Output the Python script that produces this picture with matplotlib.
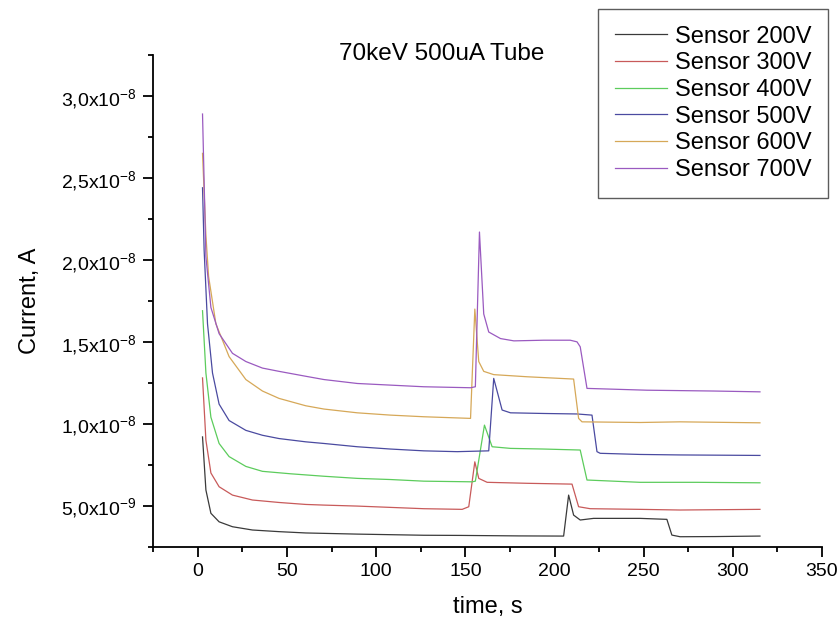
import numpy as np
import matplotlib
matplotlib.use('Agg')
import matplotlib.pyplot as plt
from matplotlib.ticker import MultipleLocator

plt.rcParams['font.family'] = ['Liberation Sans', 'DejaVu Sans']
plt.rcParams['mathtext.default'] = 'regular'

# readings, current in units of 1e-9 A
t_200 = [2.6, 4.5, 7.3, 11.9, 19.4, 30.6, 45.5, 60.5, 89.4, 126.7, 147.3, 180, 205.1,
         207.9, 210.7, 214.4, 221.9, 248, 263, 265.8, 270.4, 290, 315.2]
i_200 = [9.2, 5.96, 4.54, 4.02, 3.72, 3.52, 3.42, 3.34, 3.27, 3.2, 3.19, 3.16, 3.15,
         5.65, 4.43, 4.13, 4.23, 4.23, 4.17, 3.21, 3.11, 3.12, 3.15]

t_300 = [2.6, 4.5, 7.3, 11.9, 19.4, 30.6, 45.5, 60.5, 70.7, 89.4, 108, 126.7, 148.2,
         151.9, 155.3, 157.5, 162.2, 184.6, 209.8, 213.5, 220, 248, 270.4, 315.2]
i_300 = [12.8, 9.0, 7.0, 6.16, 5.65, 5.35, 5.2, 5.08, 5.04, 4.98, 4.9, 4.82, 4.78,
         4.94, 7.68, 6.67, 6.43, 6.37, 6.32, 4.94, 4.82, 4.78, 4.74, 4.78]

t_400 = [2.6, 4.5, 7.3, 11.9, 17.5, 26.9, 36.2, 52, 70.7, 89.4, 108, 126.7, 153.8,
         155.6, 160.7, 165, 175.3, 194, 214.4, 218.2, 248, 280, 315.2]
i_400 = [16.9, 13.1, 10.4, 8.8, 8.0, 7.4, 7.1, 6.95, 6.8, 6.67, 6.6, 6.5, 6.46,
         6.5, 9.92, 8.6, 8.5, 8.46, 8.4, 6.57, 6.43, 6.43, 6.4]

t_500 = [2.6, 3.5, 5.4, 8.2, 11.9, 17.5, 26.9, 36.2, 45.5, 60.5, 70.7, 89.4, 108,
         126.7, 145.4, 163.1, 165.9, 170.6, 175.3, 194, 212.6, 221, 223.8, 225.6,
         248, 270.4, 315.2]
i_500 = [24.4, 20.6, 16.1, 13.1, 11.2, 10.2, 9.6, 9.3, 9.1, 8.9, 8.8, 8.6, 8.46,
         8.35, 8.3, 8.35, 12.77, 10.84, 10.67, 10.63, 10.6, 10.53, 8.3, 8.2,
         8.13, 8.1, 8.07]

t_600 = [2.6, 4.5, 6, 10.1, 17.5, 26.9, 36.2, 45.5, 60.5, 70.7, 89.4, 108, 126.7,
         152.9, 155.3, 157.5, 160.3, 165.9, 184.6, 203.2, 210.7, 213.5, 215.4, 248,
         270.4, 315.2]
i_600 = [26.5, 21.5, 19.0, 16.1, 14.1, 12.7, 12.0, 11.55, 11.1, 10.9, 10.67, 10.53, 10.43,
         10.33, 17.0, 13.8, 13.2, 13.0, 12.87, 12.77, 12.73, 10.33, 10.12, 10.08,
         10.12, 10.06]

t_700 = [2.6, 4.5, 7.3, 11.9, 19.4, 26.9, 36.2, 45.5, 60.5, 70.7, 89.4, 108, 126.7,
         152.9, 155.6, 157.9, 160.3, 163.1, 169.7, 177.2, 194, 208.8, 212.6, 214.4,
         218.2, 251.8, 289, 315.2]
i_700 = [28.9, 20.2, 17.1, 15.5, 14.3, 13.8, 13.4, 13.2, 12.9, 12.7, 12.46, 12.36, 12.26,
         12.2, 12.26, 21.7, 16.7, 15.6, 15.2, 15.06, 15.1, 15.1, 15.0, 14.7,
         12.16, 12.05, 12.0, 11.95]

labels = ['Sensor 200V', 'Sensor 300V', 'Sensor 400V', 'Sensor 500V', 'Sensor 600V', 'Sensor 700V']
colors = ['#3a3a3a', '#c85a5a', '#5ccc5c', '#4a4aa0', '#d6a858', '#9a5ac0']
series = [(t_200, i_200), (t_300, i_300), (t_400, i_400),
          (t_500, i_500), (t_600, i_600), (t_700, i_700)]

y_ticks = [5e-9, 1e-8, 1.5e-8, 2e-8, 2.5e-8, 3e-8]
y_ticklabels = ['5,0x10$^{-9}$', '1,0x10$^{-8}$', '1,5x10$^{-8}$',
                '2,0x10$^{-8}$', '2,5x10$^{-8}$', '3,0x10$^{-8}$']

fig = plt.figure(figsize=(8.4, 6.21), dpi=100)
ax = fig.add_axes([0.1825, 0.1196, 0.7961, 0.7918])

for (t, cur), lab, col in zip(series, labels, colors):
    ax.plot(t, np.array(cur) * 1e-9, color=col, lw=0.9, label=lab)

ax.set_xlim(-25, 350)
ax.set_ylim(2.5e-9, 3.25e-8)
ax.xaxis.set_major_locator(MultipleLocator(50))
ax.xaxis.set_minor_locator(MultipleLocator(25))
ax.set_yticks(y_ticks)
ax.set_yticklabels(y_ticklabels)
ax.yaxis.set_minor_locator(MultipleLocator(2.5e-9))

for s in ['top', 'right']:
    ax.spines[s].set_visible(False)
for s in ['left', 'bottom']:
    ax.spines[s].set_linewidth(1.3)
ax.tick_params(which='major', direction='out', length=7, width=1.3, labelsize=14, pad=5)
ax.tick_params(which='minor', direction='out', length=3.8, width=1.3)

ax.set_xlabel('time, s', fontsize=17, va='center')
ax.set_ylabel('Current, A', fontsize=17, va='center')
ax.xaxis.set_label_coords(0.5, -0.1226)
ax.yaxis.set_label_coords(-0.185, 0.5)

fig.text(442 / 840, 1 - 54 / 621, '70keV 500uA Tube', fontsize=17.5, ha='center', va='center')

leg = ax.legend(loc='upper right', bbox_to_anchor=(828 / 840, 1 - 9 / 621),
                bbox_transform=fig.transFigure, fontsize=17, frameon=True,
                fancybox=False, borderaxespad=0, handlelength=2.2,
                labelspacing=0.2, borderpad=0.7, handletextpad=0.35)
leg.get_frame().set_edgecolor('#333333')
leg.get_frame().set_linewidth(1.0)

fig.savefig('out.png', dpi=100)
